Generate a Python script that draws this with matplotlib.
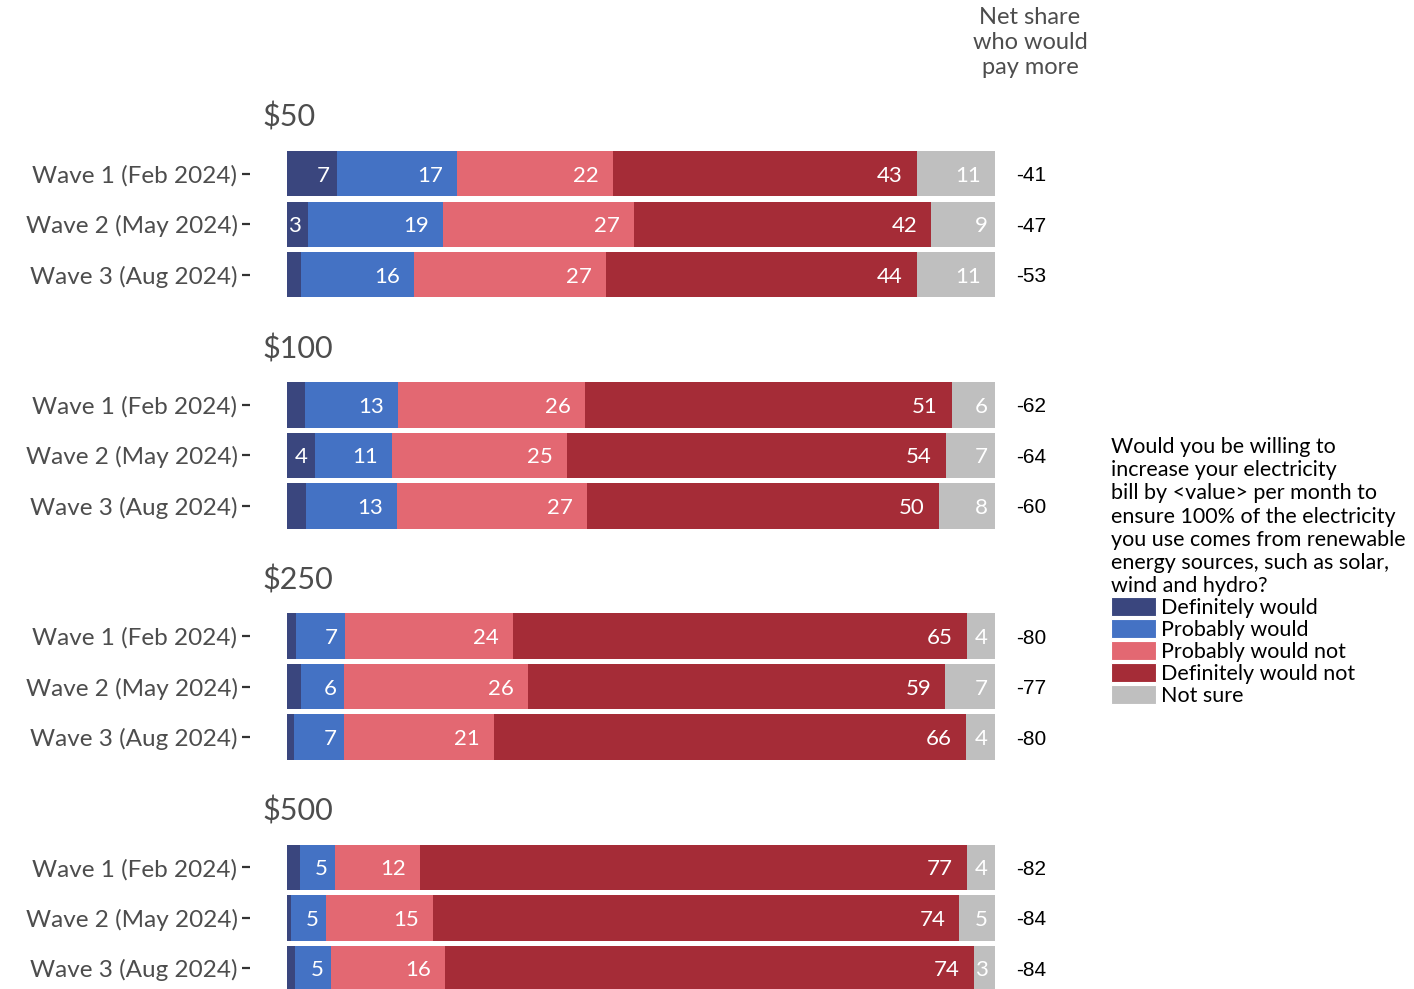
import numpy as np
import matplotlib
matplotlib.use("Agg")
import matplotlib.pyplot as plt
from matplotlib.patches import Patch

plt.rcParams['font.family'] = ['Lato', 'DejaVu Sans']

# Survey data: share (%) of respondents per answer, for each bill increase and wave
amounts = ['$50', '$100', '$250', '$500']
waves = ['Wave 1 (Feb 2024)', 'Wave 2 (May 2024)', 'Wave 3 (Aug 2024)']
answers = ['Definitely would', 'Probably would', 'Probably would not',
           'Definitely would not', 'Not sure']
colors = ['#3a467e', '#4472c4', '#e36872', '#a52c37', '#bfbfbf']

definitely_would = [[7, 3, 2], [2.5, 4, 2.7], [1.3, 2, 1], [1.8, 0.5, 1.1]]
probably_would = [[17, 19, 16], [13, 11, 13], [7, 6, 7], [5, 5, 5]]
probably_not = [[22, 27, 27], [26, 25, 27], [24, 26, 21], [12, 15, 16]]
definitely_not = [[43, 42, 44], [51, 54, 50], [65, 59, 66], [77, 74, 74]]
not_sure = [[11, 9, 11], [6, 7, 8], [4, 7, 4], [4, 5, 3]]
net_share = [[-41, -47, -53], [-62, -64, -60], [-80, -77, -80], [-82, -84, -84]]

legend_title = ("Would you be willing to\nincrease your electricity\n"
                "bill by <value> per month to\nensure 100% of the electricity\n"
                "you use comes from renewable\nenergy sources, such as solar,\n"
                "wind and hydro?")

W, H = 1414, 989
fig = plt.figure(figsize=(W / 100, H / 100), dpi=100)

px_per_unit = 7.08
x0_px = 287
ax_left_px = 250
xmin = -(x0_px - ax_left_px) / px_per_unit
xmax = 110
ax_right_px = x0_px + xmax * px_per_unit

series = [definitely_would, probably_would, probably_not, definitely_not, not_sure]
text_grey = '#4d4d4d'

for i, amount in enumerate(amounts):
    top_px = 148.5 + 231.2 * i
    h_px = 151.5
    ax = fig.add_axes([ax_left_px / W, 1 - (top_px + h_px) / H,
                       (ax_right_px - ax_left_px) / W, h_px / H])
    rows = np.array([[s[i][j] for s in series] for j in range(3)], dtype=float)
    # stack as shares of the row total so every bar spans 0-100
    shares = rows / rows.sum(axis=1, keepdims=True) * 100
    left = np.zeros(3)
    for k in range(len(answers)):
        ax.barh(np.arange(3), shares[:, k], left=left, height=0.9,
                color=colors[k], edgecolor='none')
        for j in range(3):
            v = rows[j, k]
            if v >= 3:
                end = left[j] + shares[j, k]
                off = 2.0 if v >= 10 else 1.0
                ax.text(end - off, j, f"{v:.0f}", ha='right',
                        va='center_baseline', color='white', fontsize=16)
        left += shares[:, k]
    for j in range(3):
        ax.text(103, j, f"{net_share[i][j]}", ha='left', va='center_baseline',
                color='black', fontsize=15, family='Liberation Sans')
    ax.set_xlim(xmin, xmax)
    ax.set_ylim(2.5, -0.5)
    ax.set_yticks(np.arange(3))
    ax.set_yticklabels(waves, fontsize=17.5, color=text_grey)
    ax.tick_params(axis='y', length=6, width=1.6, color='#333333', pad=3)
    ax.set_xticks([])
    for sp in ax.spines.values():
        sp.set_visible(False)
    fig.text(262 / W, 1 - (top_px - 31) / H, amount, ha='left', va='center',
             fontsize=22, color=text_grey)

fig.text(1030 / W, 1 - 42.5 / H, "Net share\nwho would\npay more", ha='center',
         va='center', fontsize=17, color=text_grey, linespacing=1.22)

handles = [Patch(facecolor=c, edgecolor='white', linewidth=0.8) for c in colors]
leg = fig.legend(handles, answers, title=legend_title, loc='upper left',
                 bbox_to_anchor=(1111 / W, 1 - 437 / H), frameon=False,
                 fontsize=15.5, title_fontsize=15.5, handlelength=2.1,
                 handleheight=1.0, labelspacing=0.04, handletextpad=0.23,
                 borderpad=0, borderaxespad=0, alignment='left')
leg.get_title().set_linespacing(1.2)

fig.savefig('out.png', dpi=100)
